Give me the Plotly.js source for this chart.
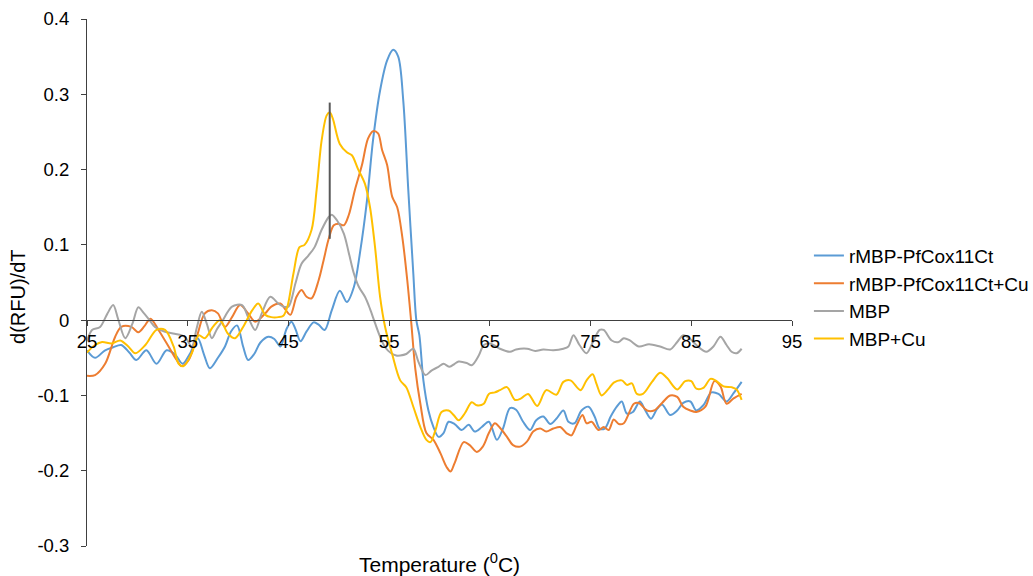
<!DOCTYPE html>
<html>
<head>
<meta charset="utf-8">
<script src="https://cdn.plot.ly/plotly-3.0.1.min.js"></script>
<style>html,body{margin:0;padding:0;background:#fff;}#chart{width:1033px;height:576px;}</style>
</head>
<body>
<div id="chart"></div>
<script>
// Series names
const seriesNames = ['rMBP-PfCox11Ct', 'rMBP-PfCox11Ct+Cu', 'MBP', 'MBP+Cu'];

// rMBP-PfCox11Ct
const tBlue = [25,25.8,26.8,27.6,28.4,29.2,29.9,30.9,31.9,32.9,33.7,34.5,35.2,36.0,36.6,37.2,38.0,38.7,39.3,39.9,40.5,41.0,41.6,42.2,43.0,43.6,44.2,44.8,45.3,45.7,46.2,46.8,47.5,48.0,48.6,49.3,50.1,50.8,51.5,52.1,52.8,53.4,54.1,54.8,55.4,55.9,56.4,56.9,57.4,57.7,58.0,58.4,58.9,59.4,59.9,60.4,60.9,61.5,62.2,62.9,63.5,64.2,64.9,65.7,66.3,67.0,67.6,68.3,69.0,69.6,70.3,71.0,71.6,72.3,72.8,73.4,74.1,74.8,75.4,75.9,76.4,77.0,77.6,78.1,78.6,79.2,79.9,80.4,81.0,81.6,82.1,82.9,83.6,84.2,84.9,85.5,86.2,87.0,87.7,88.5,89.2,90.0];
const vBlue = [-0.040,-0.050,-0.040,-0.036,-0.033,-0.043,-0.053,-0.040,-0.058,-0.040,-0.045,-0.058,-0.045,-0.024,-0.045,-0.064,-0.050,-0.035,-0.015,-0.007,-0.035,-0.053,-0.045,-0.030,-0.022,-0.025,-0.035,-0.012,-0.002,-0.012,-0.028,-0.015,-0.003,-0.006,-0.013,0.013,0.039,0.024,0.044,0.089,0.159,0.239,0.305,0.345,0.359,0.350,0.292,0.173,0.062,0.000,-0.020,-0.080,-0.120,-0.142,-0.155,-0.150,-0.135,-0.138,-0.146,-0.139,-0.148,-0.142,-0.135,-0.159,-0.144,-0.117,-0.119,-0.135,-0.146,-0.133,-0.128,-0.138,-0.131,-0.120,-0.135,-0.137,-0.120,-0.115,-0.128,-0.144,-0.144,-0.128,-0.115,-0.108,-0.124,-0.122,-0.108,-0.119,-0.131,-0.118,-0.112,-0.126,-0.120,-0.110,-0.108,-0.120,-0.113,-0.096,-0.098,-0.108,-0.097,-0.082];

// rMBP-PfCox11Ct+Cu
const tOrange = [25,25.8,26.8,27.8,28.4,29.4,30.1,30.7,31.3,32.1,33.1,33.9,34.4,35.1,35.9,36.7,37.4,38.0,38.7,39.4,40.2,41.0,41.7,42.7,43.3,44.2,44.7,45.2,45.8,46.3,46.8,47.3,48.0,48.5,49.0,49.5,50.0,50.5,51.0,51.6,52.3,52.9,53.4,53.9,54.3,54.8,55.3,55.8,56.3,56.8,57.2,57.6,58.1,58.7,59.4,60.1,60.7,61.1,61.5,62.4,63.0,63.7,64.3,64.9,65.5,66.0,66.7,67.3,68.0,68.7,69.3,70.0,70.6,71.3,72.0,72.6,73.1,73.6,74.2,74.6,75.1,75.8,76.3,76.8,77.3,77.8,78.3,79.3,79.8,80.6,81.3,82.1,82.9,83.6,84.2,84.9,85.5,86.4,87.3,87.9,88.5,89.2,90.0];
const vOrange = [-0.074,-0.073,-0.058,-0.022,-0.009,-0.009,-0.016,-0.008,0.002,-0.013,-0.035,-0.053,-0.061,-0.053,-0.022,0.009,0.013,0.009,-0.009,0.004,0.020,0.009,-0.002,0.009,0.018,0.022,0.014,0.007,0.031,0.040,0.031,0.029,0.053,0.080,0.108,0.126,0.128,0.126,0.140,0.173,0.206,0.241,0.251,0.248,0.226,0.206,0.164,0.150,0.111,0.053,-0.004,-0.065,-0.111,-0.150,-0.159,-0.177,-0.195,-0.201,-0.190,-0.162,-0.166,-0.175,-0.168,-0.150,-0.137,-0.143,-0.155,-0.166,-0.168,-0.161,-0.148,-0.144,-0.148,-0.144,-0.142,-0.150,-0.153,-0.140,-0.126,-0.137,-0.135,-0.146,-0.142,-0.146,-0.132,-0.138,-0.137,-0.111,-0.110,-0.120,-0.120,-0.110,-0.100,-0.102,-0.115,-0.120,-0.122,-0.115,-0.081,-0.088,-0.111,-0.104,-0.098];

// MBP
const tGray = [25,25.5,26.3,27.0,27.6,28.1,28.8,29.5,30.1,30.6,31.1,31.75,32.75,33.7,34.7,35.4,35.9,36.4,36.9,37.4,37.9,38.4,39.4,40.4,41.0,41.7,42.35,43.2,44.0,44.5,45.0,45.7,46.3,47.0,47.6,48.3,49.0,49.3,49.8,50.5,51.0,51.5,52.0,52.6,53.1,53.6,54.1,54.6,55.2,55.7,56.1,56.7,57.4,57.9,58.6,59.2,59.9,60.4,61.0,61.5,61.9,62.7,63.2,63.9,64.4,65.0,65.5,66.0,67.0,67.6,68.7,69.5,70.3,71.3,72.3,72.8,73.3,73.9,74.6,75.3,75.9,76.3,77.1,77.8,78.3,78.9,79.8,80.8,81.9,82.9,83.6,84.2,84.9,85.5,86.5,87.2,87.9,88.5,89.0,89.5,90.0];
const vGray = [-0.028,-0.013,-0.009,0.008,0.020,0.001,-0.024,-0.005,0.017,0.010,0.002,-0.009,-0.0155,-0.018,-0.022,-0.035,-0.010,0.011,-0.005,-0.024,-0.012,-0.002,0.018,0.020,0.004,-0.013,0.009,0.031,0.022,0.018,0.018,0.049,0.075,0.086,0.097,0.120,0.137,0.140,0.133,0.115,0.089,0.062,0.044,0.031,0.015,-0.004,-0.022,-0.036,-0.044,-0.047,-0.047,-0.045,-0.038,-0.055,-0.073,-0.067,-0.062,-0.058,-0.062,-0.058,-0.055,-0.057,-0.060,-0.047,-0.033,-0.031,-0.034,-0.038,-0.042,-0.039,-0.038,-0.041,-0.039,-0.040,-0.038,-0.035,-0.020,-0.033,-0.044,-0.027,-0.013,-0.013,-0.027,-0.029,-0.024,-0.027,-0.035,-0.032,-0.035,-0.039,-0.029,-0.020,-0.025,-0.033,-0.042,-0.035,-0.022,-0.033,-0.042,-0.044,-0.038];

// MBP+Cu
const tYellow = [25,25.8,26.5,27.45,28.3,29.1,29.8,30.8,31.9,32.75,33.6,34.1,34.6,35.4,36.1,36.7,37.5,38.2,39.0,39.7,40.5,41.4,42.0,42.7,43.3,44.0,44.5,44.9,45.5,46.1,46.6,47.3,47.8,48.3,48.8,49.1,49.4,50.1,50.8,51.3,51.9,52.6,53.1,53.6,54.1,54.6,55.3,56.1,56.7,57.4,58.1,58.7,59.1,59.6,60.2,60.9,61.4,61.9,62.5,63.2,63.7,64.4,64.9,65.5,66.0,66.7,67.5,68.1,68.8,69.7,70.6,71.6,72.3,73.0,74.0,74.6,75.2,75.6,76.1,76.8,77.3,78.1,78.6,79.1,79.6,80.2,81.1,81.9,82.6,83.6,84.4,85.0,85.5,86.2,86.9,87.4,88.2,89.0,89.5,90.0];
const vYellow = [-0.043,-0.033,-0.029,-0.031,-0.027,-0.035,-0.044,-0.033,-0.013,-0.013,-0.035,-0.058,-0.061,-0.044,-0.020,-0.024,-0.009,0.000,-0.018,-0.024,-0.009,0.013,0.022,0.007,0.004,0.004,0.006,0.018,0.062,0.097,0.100,0.120,0.173,0.239,0.272,0.276,0.268,0.234,0.223,0.219,0.201,0.181,0.150,0.097,0.031,-0.009,-0.045,-0.080,-0.089,-0.115,-0.142,-0.159,-0.162,-0.146,-0.122,-0.120,-0.126,-0.133,-0.124,-0.109,-0.113,-0.111,-0.098,-0.096,-0.093,-0.089,-0.106,-0.104,-0.098,-0.114,-0.093,-0.099,-0.082,-0.080,-0.093,-0.080,-0.072,-0.085,-0.100,-0.091,-0.083,-0.080,-0.086,-0.084,-0.098,-0.098,-0.082,-0.070,-0.077,-0.092,-0.081,-0.081,-0.091,-0.090,-0.078,-0.080,-0.088,-0.089,-0.092,-0.106];

// Vertical marker line
const tMark = [49.1, 49.1];
const vMark = [0.108, 0.289];

// Axis ticks and titles
const xTickVals = [25, 35, 45, 55, 65, 75, 85, 95];
const xTickText = ['25', '35', '45', '55', '65', '75', '85', '95'];
const yTickVals = [-0.3, -0.2, -0.1, 0, 0.1, 0.2, 0.3, 0.4];
const yTickText = ['-0.3', '-0.2', '-0.1', '0', '0.1', '0.2', '0.3', '0.4'];
const xTitle = 'Temperature (<sup>0</sup>C)';
const yTitle = 'd(RFU)/dT';

const colors = ['#5B9BD5', '#ED7D31', '#A5A5A5', '#FFC000'];
const xs = [tBlue, tOrange, tGray, tYellow];
const ys = [vBlue, vOrange, vGray, vYellow];

const FONT = 'Liberation Sans, Arial, sans-serif';

const traces = seriesNames.map((n, i) => ({
  type: 'scatter', mode: 'lines', name: n, x: xs[i], y: ys[i],
  line: {color: colors[i], width: 2, shape: 'spline', smoothing: 0.9},
  hoverinfo: 'skip'
}));
traces.push({
  type: 'scatter', mode: 'lines', x: tMark, y: vMark, showlegend: false,
  line: {color: '#595959', width: 2}, hoverinfo: 'skip'
});

const layout = {
  width: 1033, height: 576,
  margin: {l: 87, r: 241, t: 19, b: 30, autoexpand: false},
  paper_bgcolor: '#ffffff', plot_bgcolor: '#ffffff',
  font: {family: FONT, size: 18, color: '#000000'},
  showlegend: true,
  legend: {x: 1.024, y: 0.587, xanchor: 'left', yanchor: 'top', font: {family: FONT, size: 19, color: '#000'}, tracegroupgap: 0, itemwidth: 30},
  xaxis: {
    range: [25, 95], tickvals: xTickVals, ticktext: xTickText,
    anchor: 'free', position: 0.3 / 0.7,
    showline: true, linecolor: '#404040', linewidth: 1,
    ticks: 'outside', ticklen: 5, tickcolor: '#404040',
    showgrid: false, zeroline: false,
    tickfont: {family: FONT, size: 18.5, color: '#000'}
  },
  yaxis: {
    range: [-0.3, 0.4], tickvals: yTickVals, ticktext: yTickText,
    showline: true, linecolor: '#404040', linewidth: 1,
    ticks: 'outside', ticklen: 5, tickcolor: '#404040', ticklabelstandoff: 8,
    showgrid: false, zeroline: false,
    tickfont: {family: FONT, size: 18.5, color: '#000'}
  },
  annotations: [{
    xref: 'paper', yref: 'paper', x: 0.5, y: -0.032, xanchor: 'center', yanchor: 'middle',
    text: xTitle, showarrow: false,
    font: {family: FONT, size: 21, color: '#000'}
  }, {
    xref: 'paper', yref: 'paper', x: -0.0979, y: 0.4725, xanchor: 'center', yanchor: 'middle',
    text: yTitle, showarrow: false, textangle: -90,
    font: {family: FONT, size: 20, color: '#000'}
  }]
};

Plotly.newPlot('chart', traces, layout, {staticPlot: true, displayModeBar: false});
</script>
</body>
</html>
